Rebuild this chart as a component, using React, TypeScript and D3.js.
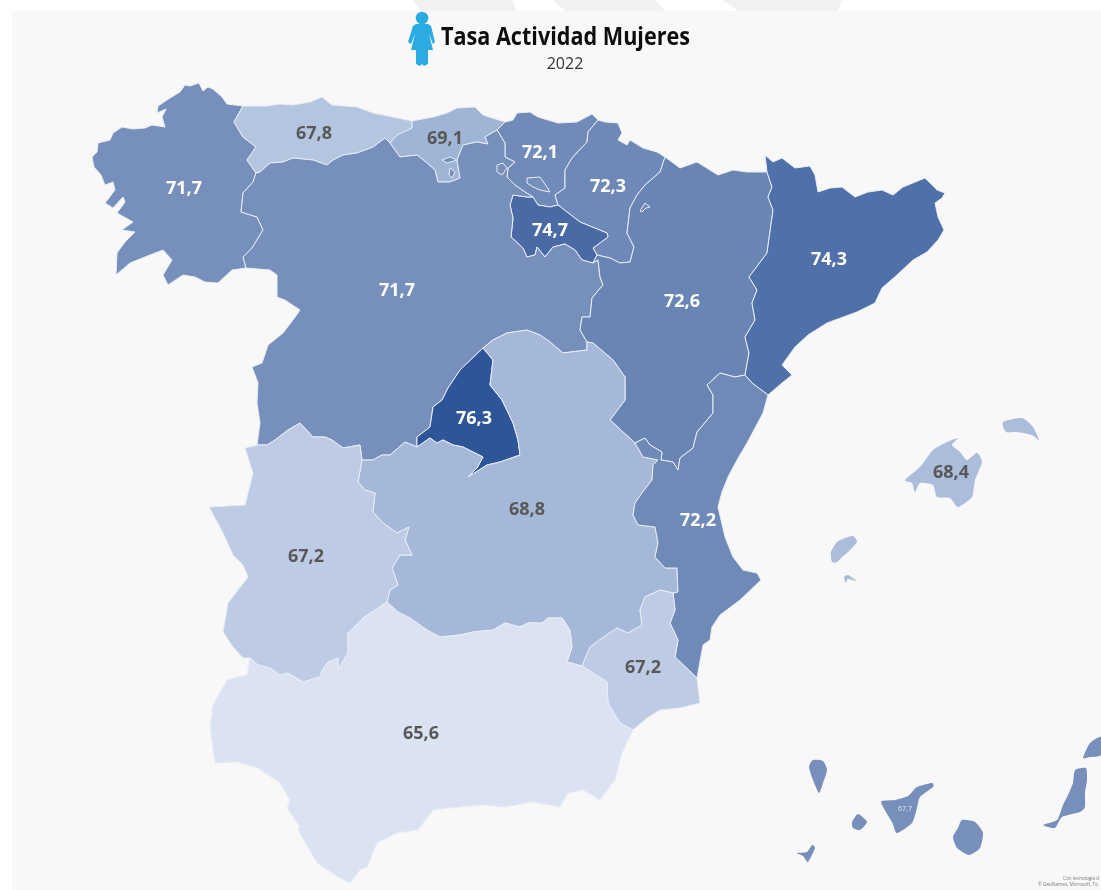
import React from "react";
import * as d3 from "d3";

type Pt = [number, number];

const WIDTH = 1101;
const HEIGHT = 890;

// values, same order everywhere
const REGIONS = ["Galicia", "Asturias", "Cantabria", "País Vasco", "Navarra", "La Rioja", "Castilla y León", "Aragón", "Cataluña", "Madrid", "Castilla-La Mancha", "C. Valenciana", "Extremadura", "Murcia", "Andalucía", "Baleares", "Canarias"];
const VALUES = [71.7, 67.8, 69.1, 72.1, 72.3, 74.7, 71.7, 72.6, 74.3, 76.3, 68.8, 72.2, 67.2, 67.2, 65.6, 68.4, 71.7];
const CANARIAS_TEXT = "67,7";
const TITLE = "Tasa Actividad Mujeres";
const YEAR = "2022";
const CREDITS = ["Con tecnología d", "© GeoNames, Microsoft, To"];

const LABEL_AT: Pt[] = [[184, 188], [314, 133], [445, 138], [540, 152], [608, 186], [550, 230], [397, 290], [682, 301], [829, 259], [474, 418], [527, 509], [698, 520], [306, 556], [643, 667], [421, 733], [951, 472], [905, 808]];

// outlines are traced in picture coordinates, shared borders are kept once
const COAST_GAL: Pt[] = [[243, 106], [227, 104], [222, 97], [213, 89], [208, 87], [203, 91], [199, 83], [190, 86], [185, 85], [180, 92], [170, 98], [158, 106], [157, 113], [166, 109], [162, 117], [165, 127], [152, 125], [145, 128], [133, 129], [122, 127], [113, 133], [110, 140], [98, 143], [97, 152], [92, 157], [94, 167], [101, 175], [105, 185], [113, 182], [115, 190], [105, 203], [113, 208], [123, 197], [125, 202], [117, 213], [133, 222], [122, 230], [135, 232], [125, 242], [117, 253], [116, 275], [130, 263], [150, 255], [163, 250], [172, 260], [163, 275], [168, 285], [183, 275], [195, 277], [205, 282], [218, 283], [232, 270], [246, 268]];
const GAL_CYL: Pt[] = [[246, 268], [243, 257], [252, 248], [263, 230], [257, 217], [241, 212], [243, 193], [253, 182], [256, 173]];
const GAL_AST: Pt[] = [[256, 173], [247, 160], [256, 147], [243, 137], [234, 122], [243, 106]];
const COAST_AST: Pt[] = [[243, 106], [267, 106], [280, 104], [293, 105], [310, 102], [322, 97], [332, 105], [345, 106], [357, 107], [373, 113], [393, 117], [412, 121]];
const AST_CAN: Pt[] = [[412, 121], [412, 128], [397, 135], [390, 143]];
const AST_CYL: Pt[] = [[390, 143], [385, 138], [373, 147], [357, 153], [343, 155], [333, 160], [327, 165], [313, 160], [293, 158], [283, 162], [270, 163], [260, 172], [256, 173]];
const COAST_CAN: Pt[] = [[412, 121], [433, 117], [447, 113], [457, 108], [475, 107], [483, 115], [505, 122]];
const CAN_PV: Pt[] = [[505, 122], [497, 130]];
const CAN_CYL: Pt[] = [[497, 130], [485, 137], [488, 144], [477, 142], [463, 145], [457, 160], [460, 178], [450, 182], [438, 182], [435, 170], [427, 163], [417, 155], [400, 157], [390, 143]];
const COAST_PV: Pt[] = [[505, 122], [513, 120], [517, 113], [530, 112], [538, 117], [558, 123], [577, 122], [592, 114], [598, 120]];
const PV_NAV: Pt[] = [[598, 120], [588, 132], [587, 142], [572, 158], [565, 170], [565, 188], [555, 195], [558, 205]];
const PV_RIO: Pt[] = [[558, 205], [550, 207], [538, 205], [533, 197]];
const PV_CYL: Pt[] = [[533, 197], [525, 192], [515, 185], [507, 177], [508, 168], [515, 162], [505, 157], [505, 143], [497, 130]];
const COAST_NAV: Pt[] = [[598, 120], [605, 122], [618, 123], [622, 133], [618, 140], [627, 145], [630, 140], [643, 148], [657, 152], [665, 157]];
const NAV_ARA: Pt[] = [[665, 157], [660, 172], [645, 185], [637, 195], [630, 208], [627, 233], [634, 247], [630, 262], [620, 263], [610, 258], [597, 255]];
const NAV_RIO: Pt[] = [[597, 255], [593, 248], [608, 237], [607, 233], [580, 222], [558, 205]];
const RIO_CYL: Pt[] = [[533, 197], [527, 197], [513, 195], [510, 205], [513, 218], [511, 237], [523, 248], [527, 257], [535, 255], [537, 247], [545, 257], [553, 247], [565, 244], [575, 250], [582, 260], [593, 263]];
const RIO_ARA: Pt[] = [[597, 255], [593, 263]];
const CYL_ARA: Pt[] = [[593, 263], [598, 260], [600, 277], [603, 285], [592, 298], [590, 317], [582, 317], [580, 330], [587, 342]];
const CYL_CLM_E: Pt[] = [[587, 342], [587, 350], [563, 353], [550, 342], [540, 335], [527, 330], [507, 333], [493, 340], [483, 348]];
const CYL_MAD: Pt[] = [[483, 348], [460, 370], [448, 388], [442, 400], [433, 407], [430, 427], [417, 437], [417, 447]];
const CYL_CLM_W: Pt[] = [[417, 447], [405, 442], [390, 455], [382, 455], [373, 460], [362, 460]];
const CYL_EXT: Pt[] = [[362, 460], [360, 445], [343, 448], [332, 440], [325, 437], [313, 437], [300, 423], [288, 430], [275, 440], [267, 445], [257, 445]];
const CYL_WEST: Pt[] = [[257, 445], [260, 423], [257, 403], [258, 383], [252, 367], [262, 363], [268, 345], [283, 333], [293, 320], [300, 310], [285, 300], [277, 297], [277, 275], [270, 270], [246, 268]];
const COAST_ARA: Pt[] = [[665, 157], [680, 168], [697, 162], [710, 170], [718, 175], [733, 170], [747, 172], [767, 172]];
const ARA_CAT: Pt[] = [[767, 172], [772, 187], [768, 197], [773, 210], [767, 253], [749, 277], [757, 290], [752, 303], [755, 320], [745, 337], [749, 353], [745, 375]];
const ARA_VAL: Pt[] = [[745, 375], [735, 377], [720, 373], [707, 385], [713, 395], [713, 413], [697, 432], [693, 448], [680, 458], [678, 470], [673, 462], [661, 460], [662, 452], [650, 445], [645, 438], [635, 443]];
const ARA_CLM: Pt[] = [[635, 443], [610, 420], [625, 400], [625, 377], [613, 360], [593, 343], [587, 342]];
const COAST_CAT: Pt[] = [[767, 172], [765, 155], [773, 162], [782, 158], [795, 168], [810, 166], [815, 175], [818, 192], [830, 188], [842, 187], [855, 197], [868, 192], [882, 190], [893, 195], [903, 187], [925, 178], [937, 190], [945, 193], [942, 198], [935, 203], [938, 217], [944, 230], [938, 240], [927, 252], [913, 260], [897, 275], [882, 288], [875, 303], [857, 312], [827, 323], [808, 335], [795, 347], [782, 365], [792, 375], [782, 383], [768, 395]];
const CAT_VAL: Pt[] = [[745, 375], [752, 383], [768, 395]];
const COAST_VAL: Pt[] = [[768, 395], [763, 413], [747, 443], [737, 460], [728, 477], [722, 492], [718, 507], [725, 537], [733, 557], [743, 570], [757, 573], [761, 580], [740, 600], [720, 615], [712, 627], [710, 640], [703, 645], [697, 678]];
const VAL_MUR: Pt[] = [[697, 678], [675, 657], [678, 640], [670, 623], [675, 610], [673, 593]];
const CLM_VAL: Pt[] = [[635, 443], [643, 457], [658, 460], [653, 465], [652, 480], [642, 493], [635, 503], [633, 515], [638, 525], [655, 527], [658, 543], [655, 557], [665, 568], [677, 568], [678, 592], [673, 593]];
const CLM_MUR: Pt[] = [[673, 593], [660, 590], [645, 597], [640, 610], [642, 625], [628, 633], [617, 628], [602, 638], [590, 647], [582, 666]];
const CLM_AND: Pt[] = [[582, 666], [567, 662], [572, 647], [570, 630], [562, 618], [548, 618], [542, 623], [528, 623], [520, 627], [505, 623], [493, 630], [473, 632], [460, 635], [440, 637], [427, 630], [410, 618], [398, 612], [387, 602]];
const CLM_EXT: Pt[] = [[387, 602], [390, 590], [398, 585], [392, 568], [400, 555], [412, 555], [405, 540], [409, 527], [397, 533], [383, 523], [373, 512], [375, 493], [365, 490], [358, 482], [362, 460]];
const MAD_CLM: Pt[] = [[417, 447], [430, 438], [437, 443], [443, 440], [453, 445], [463, 447], [473, 452], [483, 457], [477, 468], [468, 477], [487, 465], [500, 462], [520, 455], [518, 440], [513, 423], [502, 400], [490, 385], [493, 360], [483, 348]];
const EXT_AND: Pt[] = [[387, 602], [363, 618], [348, 633], [348, 653], [338, 670], [338, 658], [328, 662], [322, 670], [320, 677], [303, 682], [288, 673], [280, 675], [270, 668], [258, 665], [250, 658]];
const EXT_WEST: Pt[] = [[250, 658], [243, 658], [233, 647], [223, 632], [228, 603], [248, 577], [243, 565], [233, 555], [223, 533], [209, 507], [245, 505], [253, 473], [245, 448], [257, 445]];
const MUR_AND: Pt[] = [[582, 666], [607, 682], [608, 703], [620, 723], [633, 730]];
const COAST_MUR: Pt[] = [[633, 730], [647, 718], [660, 710], [680, 708], [700, 703], [697, 678]];
const COAST_AND: Pt[] = [[633, 730], [622, 753], [615, 780], [600, 800], [583, 790], [568, 793], [560, 807], [533, 802], [505, 807], [483, 805], [460, 807], [433, 810], [418, 830], [397, 833], [377, 843], [367, 867], [360, 870], [350, 883], [338, 877], [317, 863], [298, 830], [300, 827], [287, 808], [290, 800], [280, 783], [258, 768], [237, 762], [215, 763], [210, 727], [213, 705], [227, 680], [237, 677], [247, 675], [250, 658]];

const MALLORCA: Pt[] = [[905, 480], [920, 467], [933, 450], [947, 442], [958, 438], [952, 445], [960, 452], [967, 460], [977, 453], [982, 462], [975, 480], [972, 497], [958, 507], [950, 498], [937, 497], [933, 485], [920, 483], [915, 492], [912, 483]];
const MENORCA: Pt[] = [[1003, 422], [1022, 418], [1033, 427], [1039, 440], [1032, 435], [1017, 432], [1006, 432]];
const IBIZA: Pt[] = [[831, 552], [837, 542], [845, 538], [853, 536], [857, 542], [848, 552], [842, 557], [837, 562], [832, 562]];
const FORMENTERA: Pt[] = [[844, 577], [848, 575], [857, 581], [848, 579], [846, 583]];
const LA_PALMA: Pt[] = [[809, 767], [813, 760], [823, 761], [827, 770], [823, 783], [819, 793], [813, 780]];
const TENERIFE: Pt[] = [[881, 802], [895, 800], [908, 796], [917, 787], [932, 783], [933, 787], [920, 797], [917, 808], [912, 823], [897, 833], [892, 822]];
const GOMERA: Pt[] = [[852, 822], [858, 814], [867, 822], [860, 830], [853, 828]];
const EL_HIERRO: Pt[] = [[797, 853], [807, 852], [812, 845], [815, 848], [808, 862], [803, 856]];
const GRAN_CANARIA: Pt[] = [[962, 820], [975, 822], [983, 833], [980, 848], [969, 855], [957, 848], [953, 837], [958, 828]];
const FUERTEVENTURA: Pt[] = [[1075, 770], [1086, 768], [1087, 780], [1085, 793], [1085, 807], [1080, 812], [1062, 817], [1055, 828], [1043, 825], [1057, 820], [1063, 805], [1068, 795], [1073, 783]];
const LANZAROTE: Pt[] = [[1083, 758], [1090, 743], [1101, 737], [1101, 755], [1090, 757]];

// small enclaves, index of the region whose colour they take
const TREVINO: Pt[] = [[527, 178], [540, 177], [547, 187], [550, 192], [540, 190], [533, 187], [527, 183]];
const VILLAVERDE: Pt[] = [[497, 165], [503, 163], [507, 168], [502, 175], [497, 172]];
const PETILLA: Pt[] = [[640, 211], [645, 203], [650, 207], [646, 208], [642, 212]];
const FLECK_A: Pt[] = [[442, 160], [450, 157], [457, 160], [447, 163]];
const FLECK_B: Pt[] = [[450, 168], [455, 172], [452, 178], [449, 175]];
const ENCLAVES: [Pt[], number][] = [[TREVINO, 6], [VILLAVERDE, 6], [PETILLA, 4], [FLECK_A, 6], [FLECK_B, 6]];

const rev = (a: Pt[]) => [...a].reverse();
const ring = (...parts: Pt[][]) => {
  const pts = parts.flat();
  return [...pts, pts[0]];
};

const SHAPES: Pt[][][] = [
  [ring(COAST_GAL, GAL_CYL, GAL_AST)],
  [ring(COAST_AST, AST_CAN, AST_CYL, GAL_AST)],
  [ring(COAST_CAN, CAN_PV, CAN_CYL, rev(AST_CAN))],
  [ring(COAST_PV, PV_NAV, PV_RIO, PV_CYL, rev(CAN_PV))],
  [ring(COAST_NAV, NAV_ARA, NAV_RIO, rev(PV_NAV))],
  [ring(rev(PV_RIO), rev(NAV_RIO), RIO_ARA, rev(RIO_CYL))],
  [ring(GAL_CYL, rev(AST_CYL), rev(CAN_CYL), rev(PV_CYL), RIO_CYL, CYL_ARA, CYL_CLM_E, CYL_MAD, CYL_CLM_W, CYL_EXT, CYL_WEST)],
  [ring(rev(NAV_ARA), COAST_ARA, ARA_CAT, ARA_VAL, ARA_CLM, rev(CYL_ARA), rev(RIO_ARA))],
  [ring(rev(ARA_CAT), COAST_CAT, rev(CAT_VAL))],
  [ring(CYL_MAD, MAD_CLM)],
  [ring(rev(CYL_CLM_E), rev(ARA_CLM), CLM_VAL, CLM_MUR, CLM_AND, CLM_EXT, rev(CYL_CLM_W), MAD_CLM)],
  [ring(CAT_VAL, COAST_VAL, VAL_MUR, rev(CLM_VAL), rev(ARA_VAL))],
  [ring(rev(CLM_EXT), EXT_AND, EXT_WEST, rev(CYL_EXT))],
  [ring(CLM_MUR, MUR_AND, COAST_MUR, VAL_MUR)],
  [ring(rev(CLM_AND), MUR_AND, COAST_AND, rev(EXT_AND))],
];
const BALEARES = [MALLORCA, MENORCA, IBIZA, FORMENTERA];
const CANARIAS = [LA_PALMA, TENERIFE, GOMERA, EL_HIERRO, GRAN_CANARIA, FUERTEVENTURA, LANZAROTE];

// figure next to the title
const ICON_HEAD: Pt = [422, 18];
const ICON_BODY: Pt[] = [[416, 24], [428, 24], [431, 26], [435, 42], [433, 44], [429, 34], [433, 50], [428, 50], [428, 64], [424, 66], [422, 64], [420, 66], [416, 64], [416, 50], [411, 50], [415, 34], [411, 44], [408, 42], [413, 26]];

// grey slants at the top of the page
const TOP_SLANTS: Pt[][] = [
  [[412, 0], [422, 11], [517, 11], [512, 0]],
  [[553, 0], [565, 11], [665, 11], [655, 0]],
  [[723, 0], [738, 11], [838, 11], [842, 0]],
];

const color = d3
  .scaleLinear<string>()
  .domain([65.6, 67.2, 68.8, 71.7, 74.3, 76.3])
  .range(["#dbe3f3", "#bdcce4", "#a5b8d8", "#7790bb", "#4f70a8", "#2f5597"]);

const geoPath = d3.geoPath(d3.geoIdentity());
const polyPath = (rings: Pt[][]) =>
  geoPath({ type: "MultiPolygon", coordinates: rings.map((r) => [r]) } as any) || "";
const line = d3.line<Pt>();
// islands are small, a closed curve gives them rounder coasts
const islandLine = d3.line<Pt>().curve(d3.curveCardinalClosed.tension(0.4));

const labelText = (v: number) => d3.format(".1f")(v).replace(".", ",");

const FONT = "'Open Sans', 'Noto Sans', sans-serif";

export default function App() {
  return (
    <svg
      width={WIDTH}
      height={HEIGHT}
      style={{ position: "absolute", left: 0, top: 0, background: "#fff" }}
      fontFamily={FONT}
    >
      <defs>
        <filter id="soft" filterUnits="userSpaceOnUse" x={0} y={0} width={WIDTH} height={HEIGHT}>
          <feGaussianBlur stdDeviation={0.45} />
        </filter>
      </defs>
      <g filter="url(#soft)">
        <rect x={12} y={11} width={WIDTH - 12} height={HEIGHT - 11} fill="#f8f8f8" />
        {TOP_SLANTS.map((s, i) => (
          <path key={i} d={line(s) + "Z"} fill="#f1f1f1" />
        ))}

        <g stroke="#e8edf6" strokeWidth={1} strokeLinejoin="round">
          {SHAPES.map((rings, i) => (
            <path key={REGIONS[i]} d={polyPath(rings)} fill={color(VALUES[i])} />
          ))}
          {ENCLAVES.map(([pts, idx], i) => (
            <path key={i} d={polyPath([ring(pts)])} fill={color(VALUES[idx])} />
          ))}
        </g>
        {BALEARES.map((p, i) => (
          <path key={i} d={islandLine(p) || ""} fill={color(VALUES[15])} />
        ))}
        {CANARIAS.map((p, i) => (
          <path key={i} d={islandLine(p) || ""} fill={color(VALUES[16])} />
        ))}

        <circle cx={ICON_HEAD[0]} cy={ICON_HEAD[1]} r={6.3} fill="#29abe2" />
        <path d={line(ICON_BODY) + "Z"} fill="#29abe2" />
        <text x={441} y={45} fontSize={25} fontWeight={700} fill="#111" textLength={249} lengthAdjust="spacingAndGlyphs">
          {TITLE}
        </text>
        <text x={565} y={69} fontSize={16} fill="#333" textAnchor="middle">
          {YEAR}
        </text>

        {VALUES.map((v, i) => {
          const [x, y] = LABEL_AT[i];
          const canarias = REGIONS[i] === "Canarias";
          return (
            <text
              key={REGIONS[i]}
              x={x}
              y={y}
              dy="0.36em"
              textAnchor="middle"
              fontSize={canarias ? 7 : 18}
              fontWeight={canarias ? 400 : 700}
              fill={canarias ? "#dfe6f2" : v > 70 ? "#fff" : "#595959"}
            >
              {canarias ? CANARIAS_TEXT : labelText(v)}
            </text>
          );
        })}

        <text x={1063} y={880} fontSize={5} fill="#777" textLength={36} lengthAdjust="spacingAndGlyphs">
          {CREDITS[0]}
        </text>
        <text x={1038} y={886} fontSize={5} fill="#777" textLength={60} lengthAdjust="spacingAndGlyphs">
          {CREDITS[1]}
        </text>
      </g>
    </svg>
  );
}
